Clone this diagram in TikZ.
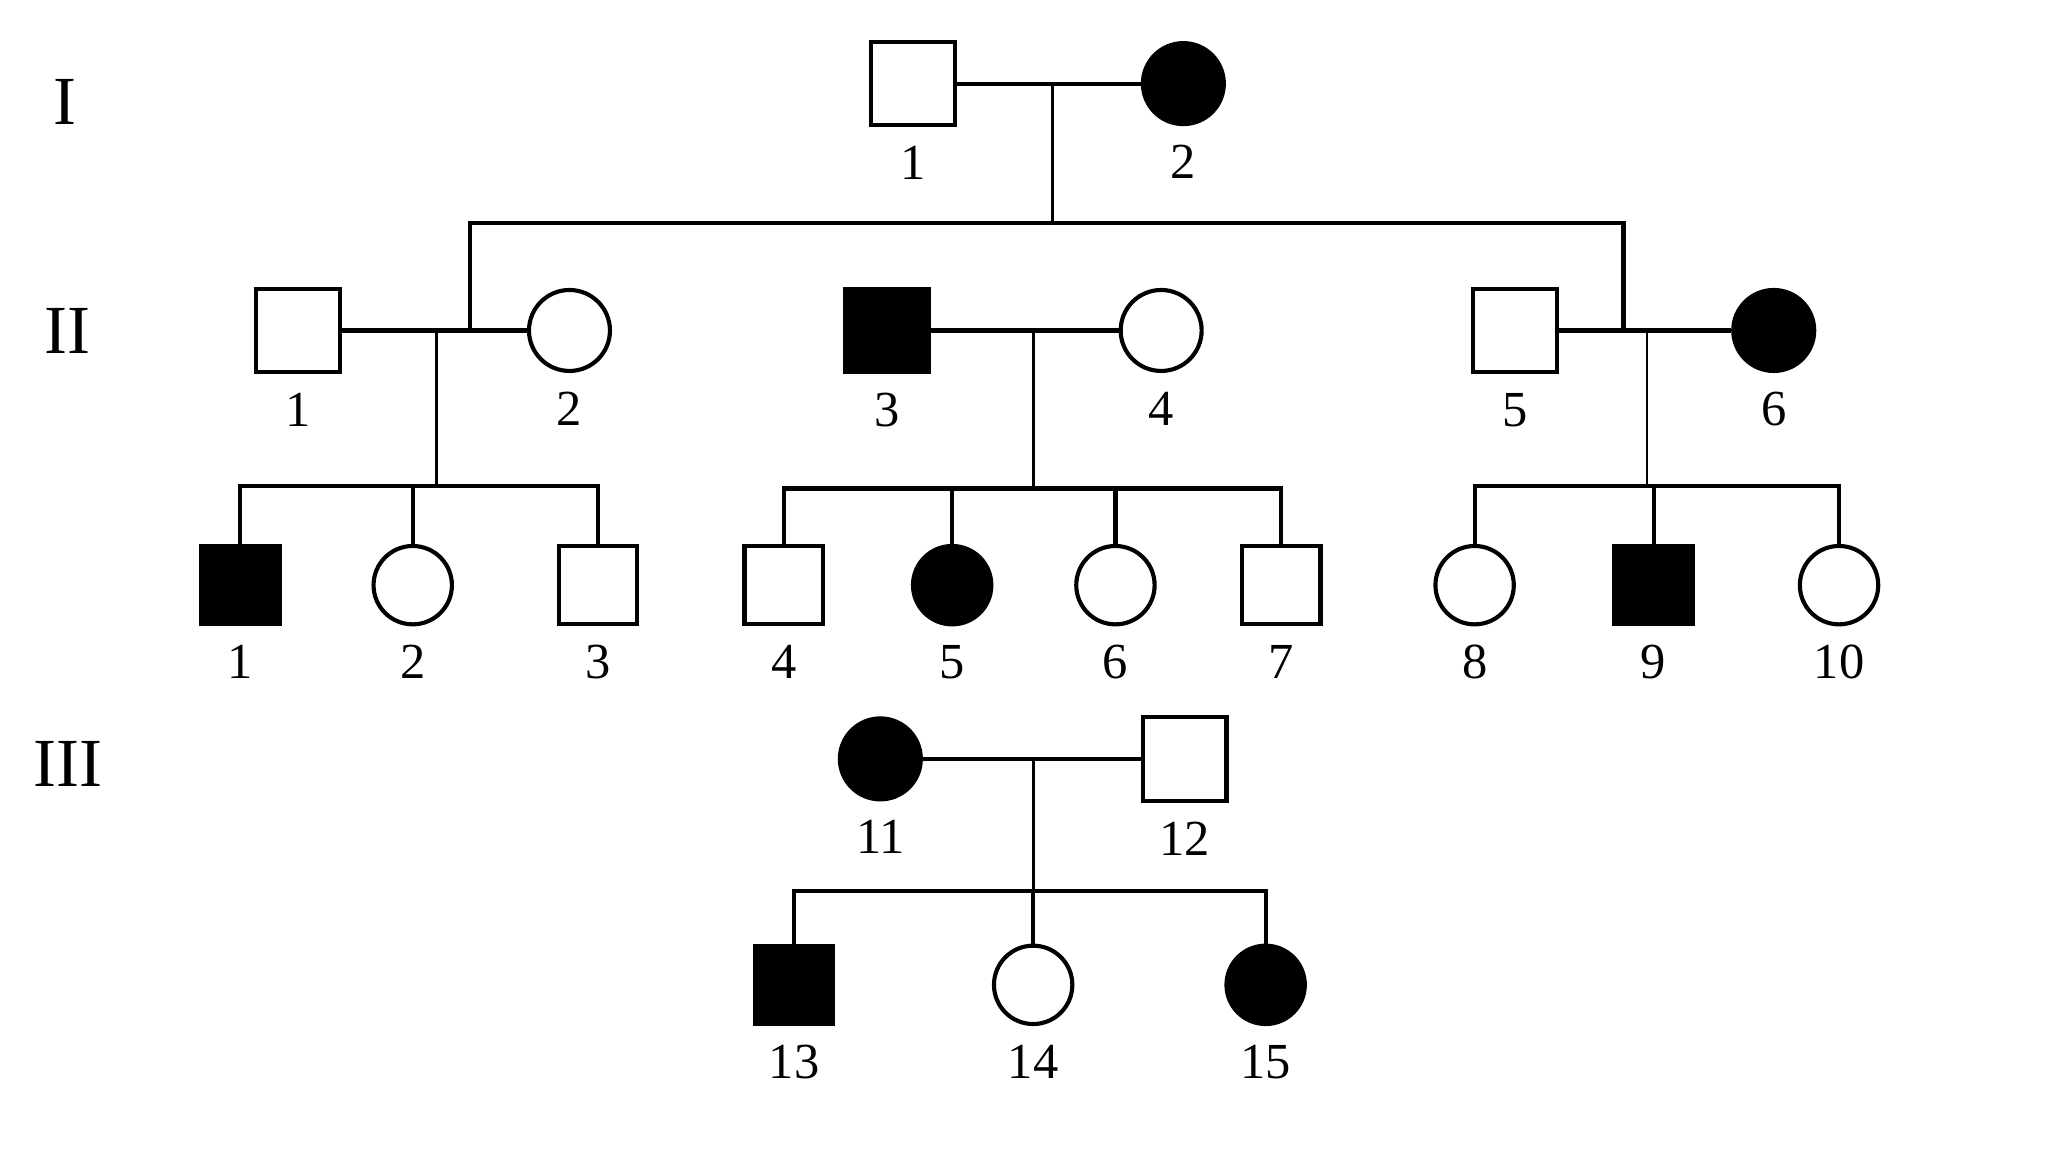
\documentclass[tikz,border=0pt]{standalone}
\usepackage{fontspec}
\setmainfont{Liberation Serif}
\usepackage{tikz}

\tikzset{
  male/.style={draw, line width=0.9pt, rectangle, minimum size=0.64cm, inner sep=0pt, label={[font=\fontsize{11}{13}\selectfont, label distance=0.02cm]below:#1}},
  female/.style={draw, line width=0.9pt, circle, minimum size=0.62cm, inner sep=0pt, label={[font=\fontsize{11}{13}\selectfont, label distance=0.02cm]below:#1}},
  ill/.style={fill=black},
  kid/.style={minimum size=0.6cm},
  wed/.style={line width=0.9pt},
  desc/.style={line width=0.6pt},
  gen/.style={font=\fontsize{15}{17}\selectfont}
}

\begin{document}
\begin{tikzpicture}
	\useasboundingbox (0,0) rectangle (15.68,-8.82);
	% generation labels
	\node[gen] (gI) at (0.50,-0.78) {I};
	\node[gen] (gII) at (0.52,-2.53) {II};
	\node[gen] (gIII) at (0.52,-5.85) {III};

	% generation I
	\node[male=1] (I1) at (6.99,-0.64) {};
	\node[female=2, ill] (I2) at (9.06,-0.64) {};
	\coordinate (mI) at (8.06,-0.64);
	\coordinate (sI) at (8.06,-1.71);
	\draw[wed] (I1) -- (I2);
	\draw[desc] (mI) -- (sI);

	% generation II
	\node[male=1] (II1) at (2.28,-2.53) {};
	\node[female=2] (II2) at (4.36,-2.53) {};
	\node[male=3, ill] (II3) at (6.79,-2.53) {};
	\node[female=4] (II4) at (8.89,-2.53) {};
	\node[male=5] (II5) at (11.60,-2.53) {};
	\node[female=6, ill] (II6) at (13.58,-2.53) {};
	\draw[wed] (II1) -- (II2);
	\draw[wed] (II3) -- (II4);
	\draw[wed] (II5) -- (II6);
	\coordinate (jL) at (3.60,-2.53);
	\coordinate (jR) at (12.43,-2.53);
	\draw[wed] (jL) |- (sI) -| (jR);

	% children of II
	\node[male=1, ill, kid] (c1) at (1.84,-4.48) {};
	\node[female=2, kid] (c2) at (3.16,-4.48) {};
	\node[male=3, kid] (c3) at (4.58,-4.48) {};
	\node[male=4, kid] (c4) at (6.00,-4.48) {};
	\node[female=5, ill, kid] (c5) at (7.29,-4.48) {};
	\node[female=6, kid] (c6) at (8.54,-4.48) {};
	\node[male=7, kid] (c7) at (9.81,-4.48) {};
	\node[female=8, kid] (c8) at (11.29,-4.48) {};
	\node[male=9, ill, kid] (c9) at (12.66,-4.48) {};
	\node[female=10, kid] (c10) at (14.08,-4.48) {};

	\coordinate (m1) at (3.34,-2.53);
	\coordinate (s1) at (3.34,-3.72);
	\draw[desc] (m1) -- (s1);
	\draw[wed] (c1.north) |- (s1) -| (c3.north);
	\draw[wed] (c2.north) -- (c2.north |- s1);

	\coordinate (m2) at (7.91,-2.53);
	\coordinate (s2) at (7.91,-3.74);
	\draw[desc] (m2) -- (s2);
	\draw[wed] (c4.north) |- (s2) -| (c7.north);
	\draw[wed] (c5.north) -- (c5.north |- s2);
	\draw[wed] (c6.north) -- (c6.north |- s2);

	\coordinate (m3) at (12.61,-2.53);
	\coordinate (s3) at (12.61,-3.72);
	\draw[desc] (m3) -- (s3);
	\draw[wed] (c8.north) |- (s3) -| (c10.north);
	\draw[wed] (c9.north) -- (c9.north |- s3);

	% generation III
	\node[female=11, ill] (c11) at (6.74,-5.81) {};
	\node[male=12] (c12) at (9.07,-5.81) {};
	\draw[wed] (c11) -- (c12);
	\coordinate (m4) at (7.91,-5.81);
	\coordinate (s4) at (7.91,-6.82);
	\draw[desc] (m4) -- (s4);

	\node[male=13, ill, kid] (c13) at (6.08,-7.54) {};
	\node[female=14, kid] (c14) at (7.91,-7.54) {};
	\node[female=15, ill, kid] (c15) at (9.69,-7.54) {};
	\draw[wed] (c13.north) |- (s4) -| (c15.north);
	\draw[wed] (c14.north) -- (s4);
\end{tikzpicture}
\end{document}
